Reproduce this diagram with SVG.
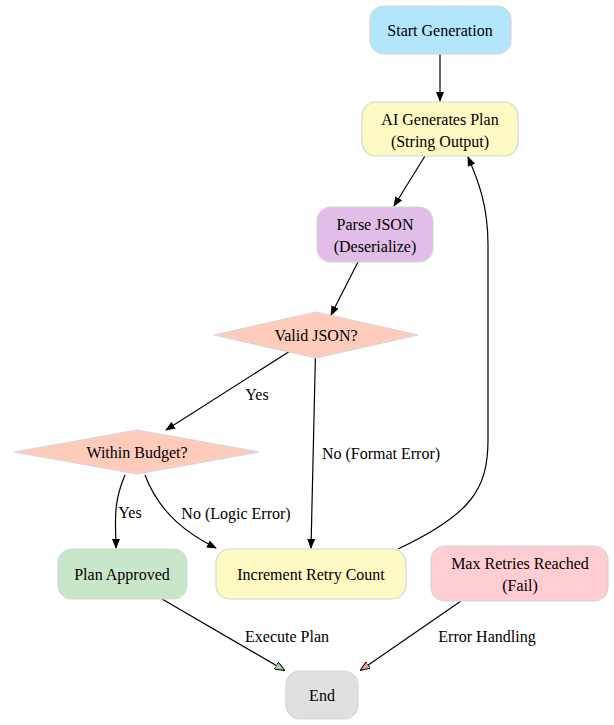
<svg xmlns="http://www.w3.org/2000/svg" width="614" height="725" viewBox="0 0 614 725">
<style>
text{font-family:"Liberation Serif","Times New Roman",serif;font-size:16px;fill:#000;text-anchor:middle}
.n{stroke:#d6d6d6;stroke-width:1.2}
.e{fill:none;stroke:#000;stroke-width:1.2}
</style>
<defs>
<marker id="a" markerWidth="10" markerHeight="8" refX="9" refY="4" orient="auto" markerUnits="userSpaceOnUse"><path d="M0,0L10,4L0,8Z" fill="#000"/></marker>
<marker id="g" markerWidth="10" markerHeight="8" refX="9" refY="4" orient="auto" markerUnits="userSpaceOnUse"><path d="M0,0L10,4L0,8Z" fill="#a5d6a7" stroke="#000" stroke-width="1"/></marker>
<marker id="r" markerWidth="10" markerHeight="8" refX="9" refY="4" orient="auto" markerUnits="userSpaceOnUse"><path d="M0,0L10,4L0,8Z" fill="#ef9a9a" stroke="#000" stroke-width="1"/></marker>
</defs>
<g id="edges">
<path class="e" d="M440,54V101" marker-end="url(#a)"/>
<path class="e" d="M425,156L394,206" marker-end="url(#a)"/>
<path class="e" d="M358,262L331,315" marker-end="url(#a)"/>
<path class="e" d="M290,351L166,430" marker-end="url(#a)"/>
<text x="257" y="400">Yes</text>
<path class="e" d="M316,331L311,548" marker-end="url(#a)"/>
<text x="381" y="459">No (Format Error)</text>
<path class="e" d="M125,475C112,505 116,525 116,548" marker-end="url(#a)"/>
<text x="130" y="518">Yes</text>
<path class="e" d="M145,475C160,515 190,535 216,548" marker-end="url(#a)"/>
<text x="236" y="519">No (Logic Error)</text>
<path class="e" d="M398,549C470,515 488,490 488,440V245C488,205 478,180 468,157" marker-end="url(#a)"/>
<path class="e" d="M162,599L284,670" marker-end="url(#g)"/>
<text x="287" y="642">Execute Plan</text>
<path class="e" d="M461,601L361,670" marker-end="url(#r)"/>
<text x="487" y="642">Error Handling</text>
</g>
<g id="start"><rect class="n" x="370" y="6" width="141" height="48" rx="14" fill="#b3e5fc"/><text x="440" y="36">Start Generation</text></g>
<g id="ai"><rect class="n" x="362" y="102" width="156" height="54" rx="14" fill="#fff9c4"/><text x="440" y="125">AI Generates Plan</text><text x="440" y="147">(String Output)</text></g>
<g id="parse"><rect class="n" x="317" y="207" width="116" height="55" rx="14" fill="#e1bee7"/><text x="375" y="230">Parse JSON</text><text x="375" y="252">(Deserialize)</text></g>
<g id="valid"><polygon class="n" points="316,312 418,335 316,358 214,335" fill="#ffccbc"/><text x="316" y="341">Valid JSON?</text></g>
<g id="budget"><polygon class="n" points="137,430 259,452 137,474 14,452" fill="#ffccbc"/><text x="137" y="458">Within Budget?</text></g>
<g id="approved"><rect class="n" x="58" y="549" width="129" height="50" rx="14" fill="#c8e6c9"/><text x="122" y="580">Plan Approved</text></g>
<g id="retry"><rect class="n" x="216" y="549" width="190" height="50" rx="14" fill="#fff9c4"/><text x="311" y="580">Increment Retry Count</text></g>
<g id="max"><rect class="n" x="431" y="546" width="177" height="55" rx="14" fill="#ffcdd2"/><text x="520" y="569">Max Retries Reached</text><text x="520" y="591">(Fail)</text></g>
<g id="end"><rect class="n" x="286" y="671" width="72" height="48" rx="14" fill="#e0e0e0"/><text x="322" y="701">End</text></g>
</svg>
